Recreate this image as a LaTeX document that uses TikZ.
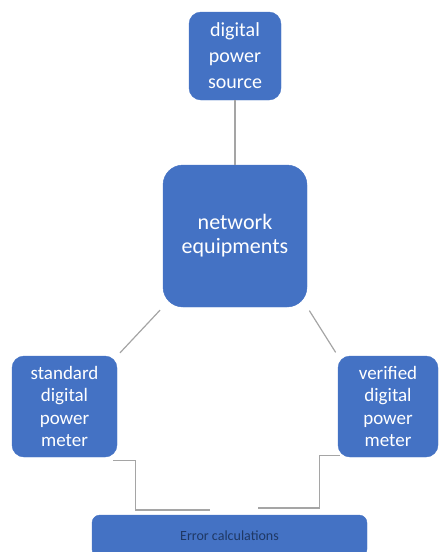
\documentclass[tikz,border=0pt]{standalone}
\usepackage{fontspec}
\setmainfont{Carlito}
\definecolor{boxblue}{HTML}{4472C4}
\definecolor{wiregray}{HTML}{A5A5A5}
\definecolor{errnavy}{HTML}{1F3864}
\begin{document}
\begin{tikzpicture}[x=1pt,y=-1pt,
  block/.style={draw=boxblue, fill=boxblue, text=white, align=center, rounded corners=12pt, inner sep=2pt, font=\fontsize{19}{22.5}\selectfont},
  wire/.style={draw=wiregray, line width=1.2pt}]
  \clip (0,0) rectangle (441,552);
  \node[block, minimum width=92pt, minimum height=88pt, font=\fontsize{20}{26}\selectfont] (source) at (235,56) {digital\\power\\source};
  \node[block, minimum width=144pt, minimum height=142pt, rounded corners=20pt, font=\fontsize{22}{24}\selectfont] (network) at (235,236) {network\\equipments};
  \node[block, minimum width=105pt, minimum height=101pt] (standard) at (64.5,406.5) {standard\\digital\\power\\meter};
  \node[block, minimum width=100pt, minimum height=101pt] (verified) at (388,406.5) {verified\\digital\\power\\meter};
  \node[block, minimum width=275pt, minimum height=42pt, rounded corners=8pt, text=errnavy, font=\fontsize{14}{16}\selectfont] (error) at (229.5,536) {Error calculations};
  \coordinate (stdend) at (210,510);
  \coordinate (verend) at (258,508);
  \draw[wire] (source) -- (network);
  \draw[wire, shorten <=4pt, shorten >=4pt] (network.south west) -- (standard.north east);
  \draw[wire, shorten <=4pt, shorten >=4pt] (network.south east) -- (verified.north west);
  \draw[wire] ([xshift=-4pt,yshift=-3pt]standard.south east) -- ++(22,0) |- (stdend);
  \draw[wire] ([xshift=2pt,yshift=2pt]verified.south west) -- ++(-20,0) |- (verend);
\end{tikzpicture}
\end{document}
